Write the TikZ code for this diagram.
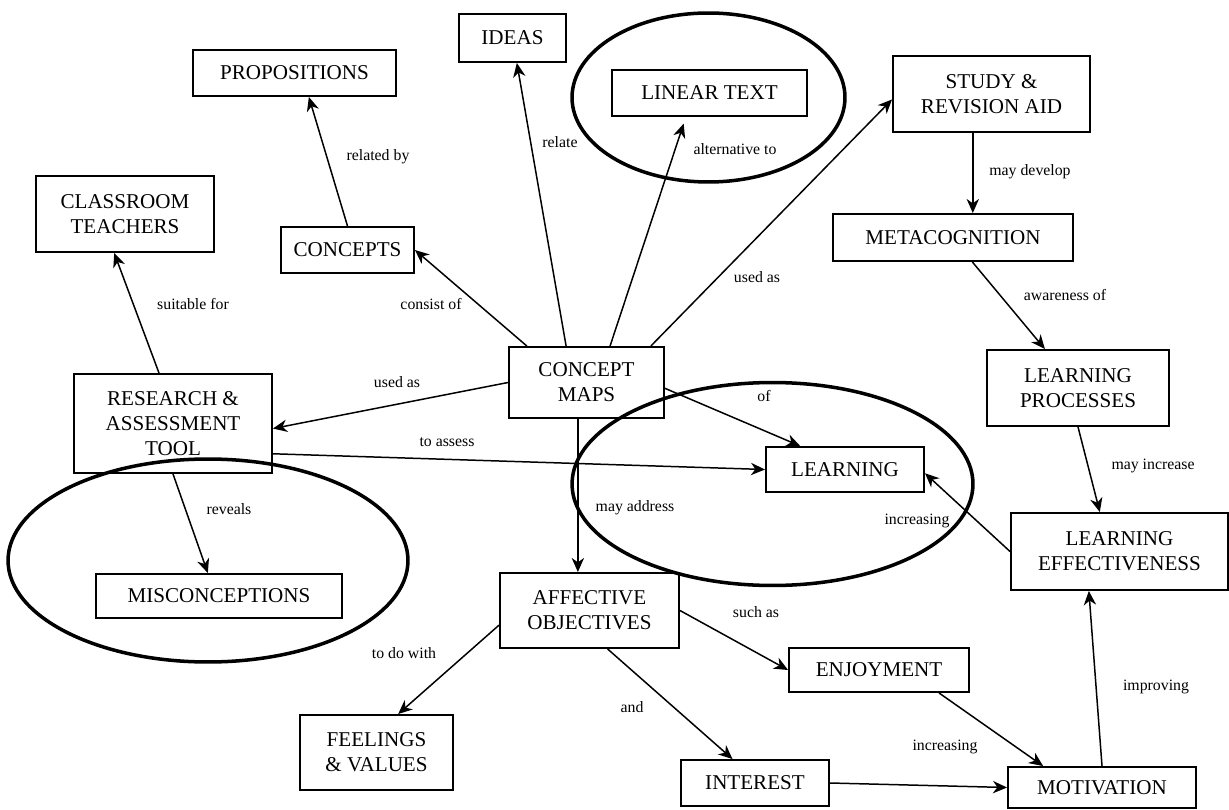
\documentclass[tikz,border=0pt]{standalone}
\usepackage{fontspec}
\setmainfont{Liberation Serif}
\usetikzlibrary{arrows.meta,calc}
\begin{document}
\begin{tikzpicture}[x=0.02cm,y=-0.02cm,
  box/.style={draw, line width=1.1pt, inner sep=0pt, align=center,
              font=\fontsize{12}{14.2}\selectfont},
  sz/.style 2 args={minimum width={#1*0.02cm}, minimum height={#2*0.02cm}},
  link/.style={line width=0.85pt, -{Stealth[length=8pt,width=7pt,inset=2.5pt]}},
  lbl/.style={inner sep=0pt, font=\fontsize{9}{10}\selectfont},
  oval/.style={line width=2pt}]
\useasboundingbox (0,0) rectangle (1229,810);
\fill[white] (0,0) rectangle (1229,810);

% grouping ovals
\draw[oval] (708.5,97.5) ellipse [x radius=2.73cm, y radius=1.69cm];
\draw[oval] (772.5,484) ellipse [x radius=4.01cm, y radius=2.03cm];
\draw[oval] (208,560.5) ellipse [x radius=4.0cm, y radius=2.03cm];

% concepts
\node[box, sz={203}{46}] (props)     at (294.5,73)   {PROPOSITIONS};
\node[box, sz={178}{76}] (classroom) at (125,214)    {CLASSROOM\\TEACHERS};
\node[box, sz={133}{46}] (concepts)  at (347.5,250)  {CONCEPTS};
\node[box, sz={107}{48}] (ideas)     at (512.5,38)   {IDEAS};
\node[box, sz={195}{46}] (linear)    at (709.5,93)   {LINEAR TEXT};
\node[box, sz={197}{76}] (study)     at (991.5,94)   {STUDY \&\\REVISION AID};
\node[box, sz={240}{47}] (meta)      at (953,237.5)  {METACOGNITION};
\node[box, sz={182}{76}] (lp)        at (1078,388)   {LEARNING\\PROCESSES};
\node[box, sz={217}{77}] (le)        at (1119.5,551.5) {LEARNING\\EFFECTIVENESS};
\node[box, sz={158}{45}] (learning)  at (845,469.5)  {LEARNING};
\node[box, sz={155}{71}] (cmaps)     at (586.5,382.5) {CONCEPT\\MAPS};
\node[box, sz={198}{99}] (research)  at (173,423.5)  {RESEARCH \&\\ASSESSMENT\\TOOL};
\node[box, sz={246}{44}] (misc)      at (219,596)    {MISCONCEPTIONS};
\node[box, sz={179}{75}] (aff)       at (589.5,610.5) {AFFECTIVE\\OBJECTIVES};
\node[box, sz={153}{75}] (feel)      at (376.5,752.5) {FEELINGS\\\& VALUES};
\node[box, sz={180}{44}] (enj)       at (879,670)    {ENJOYMENT};
\node[box, sz={148}{46}] (int)       at (755,783)    {INTEREST};
\node[box, sz={188}{41}] (mot)       at (1102,787.5) {MOTIVATION};

% link phrases
\node[lbl] (lRel)    at (378,157)  {related by};
\node[lbl] (lRelate) at (560,142)  {relate};
\node[lbl] (lAlt)    at (735,149)  {alternative to};
\node[lbl] (lUsedA)  at (757,277)  {used as};
\node[lbl] (lDev)    at (1030,172) {may develop};
\node[lbl] (lAware)  at (1065,295) {awareness of};
\node[lbl] (lSuit)   at (193,304)  {suitable for};
\node[lbl] (lCons)   at (431,304)  {consist of};
\node[lbl] (lUsedB)  at (397,382)  {used as};
\node[lbl] (lAssess) at (447,442)  {to assess};
\node[lbl] (lOf)     at (764,396)  {of};
\node[lbl] (lAddr)   at (635,508)  {may address};
\node[lbl] (lRev)    at (229,509)  {reveals};
\node[lbl] (lIncr)   at (1153,466) {may increase};
\node[lbl] (lIncA)   at (917,521)  {increasing};
\node[lbl] (lSuch)   at (756,612)  {such as};
\node[lbl] (lDo)     at (404,653)  {to do with};
\node[lbl] (lAnd)    at (632,707)  {and};
\node[lbl] (lIncB)   at (945,747)  {increasing};
\node[lbl] (lImp)    at (1156,687) {improving};

% connectors
\draw[link] (concepts.north) -- ($(props.south west)!0.57!(props.south east)$);
\draw[link] ($(cmaps.north west)!0.12!(cmaps.north east)$) -- (concepts.east);
\draw[link] ($(cmaps.north west)!0.37!(cmaps.north east)$) -- ($(ideas.south west)!0.54!(ideas.south east)$);
\draw[link, shorten >=4pt] ($(cmaps.north west)!0.65!(cmaps.north east)$) -- ($(linear.south west)!0.38!(linear.south east)$);
\draw[link] ($(cmaps.north west)!0.91!(cmaps.north east)$) -- ($(study.north west)!0.57!(study.south west)$);
\draw[link] (cmaps.west) -- ($(research.north east)!0.55!(research.south east)$);
\draw[link] ($(cmaps.north east)!0.58!(cmaps.south east)$) -- ($(learning.north west)!0.22!(learning.north east)$);
\coordinate (cmDown) at ($(cmaps.south west)!0.445!(cmaps.south east)$);
\draw[link] (cmDown) -- (cmDown |- aff.north);
\draw[link] ($(research.north west)!0.43!(research.north east)$) -- ($(classroom.south west)!0.44!(classroom.south east)$);
\draw[link] (research.south) -- ($(misc.north west)!0.455!(misc.north east)$);
\draw[link] ($(research.north east)!0.8!(research.south east)$) -- (learning.west);
\coordinate (stDown) at ($(study.south west)!0.406!(study.south east)$);
\draw[link] (stDown) -- (stDown |- meta.north);
\draw[link] ($(meta.south west)!0.58!(meta.south east)$) -- ($(lp.north west)!0.32!(lp.north east)$);
\draw[link] (lp.south) -- ($(le.north west)!0.41!(le.north east)$);
\draw[link] (le.west) -- ($(learning.north east)!0.58!(learning.south east)$);
\draw[link] (mot.north) -- ($(le.south west)!0.36!(le.south east)$);
\draw[link] ($(enj.south west)!0.83!(enj.south east)$) -- ($(mot.north west)!0.19!(mot.north east)$);
\draw[link] (int.east) -- (mot.west);
\draw[link] (aff.east) -- (enj.west);
\draw[link] ($(aff.south west)!0.6!(aff.south east)$) -- ($(int.north west)!0.35!(int.north east)$);
\draw[link] ($(aff.north west)!0.69!(aff.south west)$) -- ($(feel.north west)!0.64!(feel.north east)$);
\end{tikzpicture}
\end{document}
